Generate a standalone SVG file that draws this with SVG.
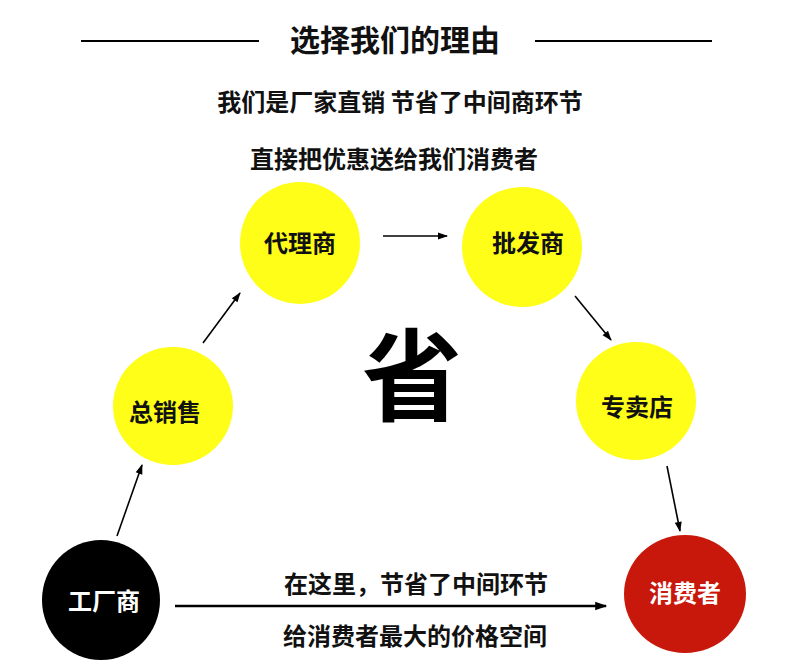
<svg xmlns="http://www.w3.org/2000/svg" width="800" height="667" viewBox="0 0 800 667">
<defs>
<marker id="ah" viewBox="0 0 10 10" refX="9" refY="5" markerWidth="12" markerHeight="10" orient="auto" markerUnits="userSpaceOnUse">
<path d="M0,1.5 L10,5 L0,8.5 z" fill="#000"/>
</marker>
<marker id="ah2" viewBox="0 0 10 10" refX="9" refY="5" markerWidth="16" markerHeight="12" orient="auto" markerUnits="userSpaceOnUse">
<path d="M0,1.5 L10,5 L0,8.5 z" fill="#000"/>
</marker>
<style>
text{font-family:"Noto Sans CJK SC","Noto Sans",sans-serif;font-weight:bold;text-anchor:middle;dominant-baseline:central}
.y{fill:#fefe19}
.lbl{font-size:24px;fill:#111}
.wl{font-size:24px;fill:#fff}
.c{stroke:#000;stroke-width:1.6;fill:none;marker-end:url(#ah)}
</style>
</defs>
<rect width="800" height="667" fill="#fff"/>
<line x1="81" y1="41" x2="259" y2="41" stroke="#000" stroke-width="2"/>
<line x1="535" y1="41" x2="712" y2="41" stroke="#000" stroke-width="2"/>
<text x="395" y="38" font-size="30" fill="#111">选择我们的理由</text>
<text x="400" y="100" font-size="24" fill="#111">我们是厂家直销 节省了中间商环节</text>
<text x="394" y="157" font-size="24" fill="#111">直接把优惠送给我们消费者</text>
<text x="412" y="369" font-size="100" fill="#000">省</text>
<g id="n-daili"><ellipse class="y" cx="300" cy="243" rx="60" ry="61"/><text class="lbl" x="300" y="241">代理商</text></g>
<g id="n-pifa"><ellipse class="y" cx="522" cy="247" rx="60" ry="60"/><text class="lbl" x="528" y="241">批发商</text></g>
<g id="n-zong"><ellipse class="y" cx="173" cy="406" rx="60" ry="59"/><text class="lbl" x="165" y="410">总销售</text></g>
<g id="n-zhuan"><ellipse class="y" cx="636" cy="401" rx="60" ry="59"/><text class="lbl" x="637" y="405">专卖店</text></g>
<g id="n-gong"><ellipse fill="#000" cx="101" cy="600" rx="59" ry="60"/><text class="wl" x="104" y="599">工厂商</text></g>
<g id="n-xiao"><ellipse fill="#c8170b" cx="685" cy="594" rx="61" ry="59"/><text class="wl" x="685" y="591">消费者</text></g>
<g id="connectors">
<line class="c" x1="203" y1="343" x2="240" y2="293"/>
<line class="c" x1="383" y1="236" x2="447" y2="236"/>
<line class="c" x1="575" y1="296" x2="611" y2="340"/>
<line class="c" x1="667" y1="466" x2="680" y2="531"/>
<line class="c" x1="117" y1="536" x2="142" y2="465"/>
<line x1="175" y1="606" x2="606" y2="606" stroke="#000" stroke-width="2.5" marker-end="url(#ah2)"/>
</g>
<text x="416" y="582" font-size="24" fill="#111">在这里，节省了中间环节</text>
<text x="415" y="634" font-size="24" fill="#111">给消费者最大的价格空间</text>
</svg>
